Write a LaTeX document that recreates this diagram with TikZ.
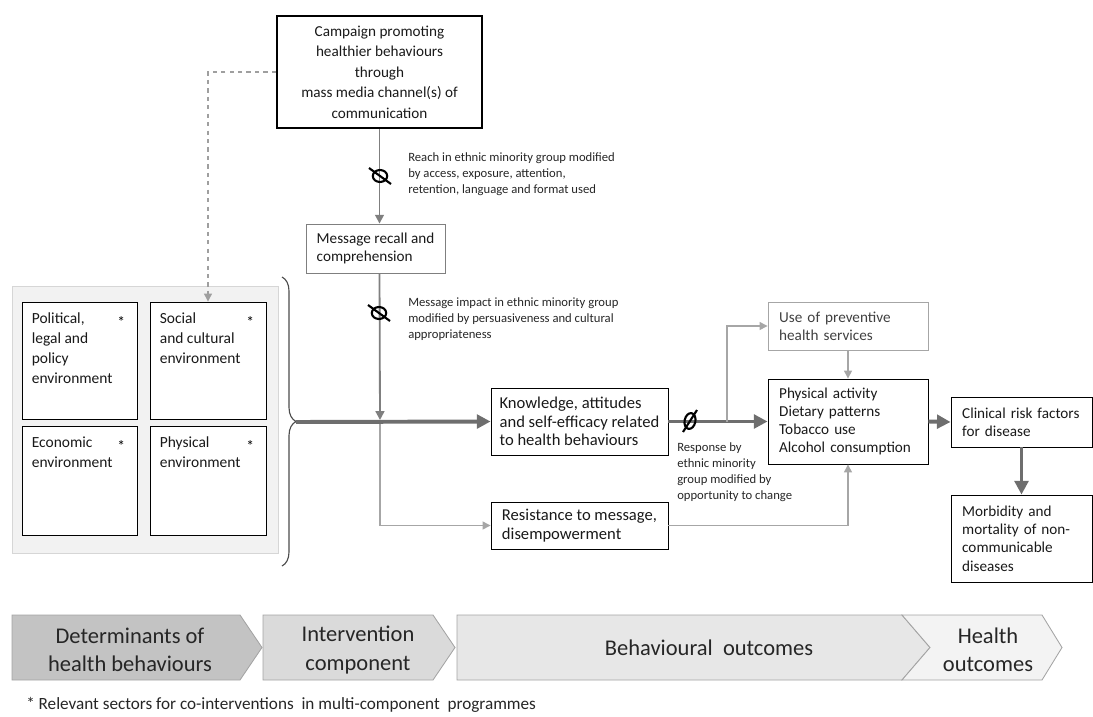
\documentclass[tikz,border=0pt]{standalone}
\usepackage{fontspec}
\setmainfont{Carlito}
\usepackage{xcolor}
\usepackage{tikz}
\usetikzlibrary{
    positioning,
    arrows.meta,
    shapes.geometric,
    calc,
    decorations.pathreplacing,
}
\definecolor{flowgray}{HTML}{6E6E6E}
\definecolor{stemgray}{HTML}{7F7F7F}
\definecolor{sidegray}{HTML}{A6A6A6}
\definecolor{panelfill}{HTML}{F2F2F2}
\definecolor{paneledge}{HTML}{D6D6D6}
\definecolor{chevA}{HTML}{C3C3C3}
\definecolor{chevB}{HTML}{DADADA}
\definecolor{chevC}{HTML}{E7E7E7}
\definecolor{chevD}{HTML}{F3F3F3}
\definecolor{chevedge}{HTML}{A3A3A3}
\tikzset{
    % Box styles
    box/.style={rectangle, draw=black, line width=0.6pt, align=left, inner xsep=0.28cm,
                inner ysep=0pt, font=\fontsize{10.8}{13}\selectfont, text=black!90},
    big box/.style={box, inner xsep=0pt, font=\fontsize{11.8}{13.2}\selectfont},
    env box/.style={rectangle, draw=black, line width=0.6pt, fill=white},
    env text/.style={anchor=north west, align=left, inner xsep=0.25cm, inner ysep=0.27cm,
                     font=\fontsize{11}{14.3}\selectfont, text=black!90},
    env star/.style={anchor=north east, inner xsep=0.3cm, inner ysep=0.36cm,
                     font=\fontsize{11}{13}\selectfont},
    % Annotation styles
    note/.style={anchor=north west, align=left, inner sep=0pt,
                 font=\fontsize{9}{11.4}\selectfont, text=black!85},
    % Arrow styles
    main arrow/.style={-{Triangle[length=3.4mm, width=3.4mm]}, line width=2.8pt, flowgray},
    stem arrow/.style={-{Triangle[length=2.2mm, width=2.2mm]}, line width=1.3pt, stemgray},
    side arrow/.style={-{Triangle[length=2mm, width=2mm]}, line width=0.9pt, sidegray},
    link arrow/.style={-{Triangle[length=2mm, width=2mm]}, dashed, line width=0.8pt, gray!75},
    % Null symbols
    null mark/.style={ellipse, draw=black, line width=1.5pt, inner sep=0pt,
                      minimum width=0.36cm, minimum height=0.3cm},
    null slash/.style={line width=1.5pt, black},
    % Phase chevrons
    chevron/.style={draw=chevedge, line width=0.6pt},
    phase/.style={align=center, font=\fontsize{16}{20}\selectfont, text=black!85},
}

\begin{document}
\begin{tikzpicture}[x=0.025cm, y=-0.025cm]
    \useasboundingbox (0,0) rectangle (1093,717);

    % Campaign
    \node[box, line width=1.4pt, align=center, minimum width=5.125cm, minimum height=2.8cm,
          font=\fontsize{10.8}{14.6}\selectfont] (campaign) at (379.5,72)
          {Campaign promoting\\healthier behaviours\\through\\mass media channel(s) of\\communication};

    % Message recall
    \node[box, draw=stemgray, inner xsep=0pt, minimum width=3.475cm, minimum height=1.225cm]
          (recall) at (375.5,248.5) {Message recall and\\comprehension};

    % Determinants panel
    \node[rectangle, draw=paneledge, fill=panelfill, minimum width=6.65cm, minimum height=6.675cm]
          (panel) at (145,419.5) {};
    \node[env box, minimum width=2.875cm, minimum height=2.925cm,
          label={[env text]north west:{Political,\\legal and\\policy\\environment}},
          label={[env star]north east:*}] (political) at (79.5,360.5) {};
    \node[env box, minimum width=2.9cm, minimum height=2.925cm,
          label={[env text]north west:{Social\\and cultural\\environment}},
          label={[env star]north east:*}] (social) at (208,360.5) {};
    \node[env box, minimum width=2.875cm, minimum height=2.725cm,
          label={[env text]north west:{Economic\\environment}},
          label={[env star]north east:*}] (economic) at (79.5,480.5) {};
    \node[env box, minimum width=2.9cm, minimum height=2.725cm,
          label={[env text]north west:{Physical\\environment}},
          label={[env star]north east:*}] (physical) at (208,480.5) {};

    % Brace
    \draw[decorate, decoration={brace, amplitude=0.35cm}, line width=0.8pt, black!70]
          (282,277) -- (282,566);
    \coordinate (bracetip) at (296,422);
    \coordinate (junction) at (380,422);
    \coordinate (split) at (727,422);

    % Behavioural outcomes
    \node[big box, minimum width=4.425cm, minimum height=1.675cm] (knowledge) at (579.5,421.5)
          {Knowledge, attitudes\\and self-efficacy related\\to health behaviours};
    \node[big box, minimum width=4.425cm, minimum height=1.175cm] (resistance) at (579.5,525.5)
          {Resistance to message,\\disempowerment};
    \node[box, draw=sidegray, text=black!75, text width=3.44cm, minimum height=1.2cm]
          (preventive) at (848,326) {Use of preventive\\health services};
    \node[box, text width=3.44cm, minimum height=2.125cm] (behaviour) at (848,421.5)
          {Physical activity\\Dietary patterns\\Tobacco use\\Alcohol consumption};

    % Health outcomes
    \node[box, text width=2.965cm, minimum height=1.25cm] (clinical) at (1021.5,422)
          {Clinical risk factors\\for disease};
    \node[box, text width=2.965cm, minimum height=2.175cm] (morbidity) at (1021.5,538.5)
          {Morbidity and\\mortality of non-\\communicable\\diseases};

    % Arrows
    \draw[link arrow] (campaign.west) -| (social.north);
    \draw[stem arrow] (campaign.south) -- (campaign.south |- recall.north);
    \draw[stem arrow] (campaign.south |- recall.south) -- ([yshift=0.05cm]junction);
    \draw[side arrow] (junction) |- (resistance.west);
    \draw[main arrow] (bracetip) -- (knowledge.west);
    \draw[main arrow] (knowledge.east) -- (behaviour.west);
    \draw[side arrow] (split) |- (preventive.west);
    \draw[side arrow] (preventive.south) -- (behaviour.north);
    \draw[side arrow] (resistance.east) -| (behaviour.south);
    \draw[main arrow] (behaviour.east) -- (clinical.west);
    \draw[main arrow] (clinical.south) -- (morbidity.north);

    % Null symbols
    \node[null mark] (nullreach) at (380,176) {};
    \draw[null slash] ($(nullreach.center)+(-11,-8)$) -- ($(nullreach.center)+(11,8)$);
    \node[null mark] (nullimpact) at (379,313) {};
    \draw[null slash] ($(nullimpact.center)+(-11,-8)$) -- ($(nullimpact.center)+(11,8)$);
    \node[null mark, minimum width=0.27cm, minimum height=0.4cm, rotate=-12] (nullresponse) at (690,421) {};
    \draw[null slash] ($(nullresponse.center)+(-7,11)$) -- ($(nullresponse.center)+(7,-11)$);

    % Modifier annotations
    \node[note] (reachnote) at (408,152)
          {Reach in ethnic minority group modified\\by access, exposure, attention,\\retention, language and format used};
    \node[note] (impactnote) at (408,297)
          {Message impact in ethnic minority group\\modified by persuasiveness and cultural\\appropriateness};
    \node[note] (responsenote) at (677,442)
          {Response by\\ethnic minority\\group modified by\\opportunity to change};

    % Phases
    \draw[chevron, fill=chevA] (12,615) -- (240,615) -- (262,647.5) -- (240,680) -- (12,680) -- cycle;
    \draw[chevron, fill=chevB] (263,615) -- (433,615) -- (455,647.5) -- (433,680) -- (263,680) -- cycle;
    \draw[chevron, fill=chevC] (457,615) -- (902,615) -- (930,647.5) -- (902,680) -- (457,680) -- cycle;
    \draw[chevron, fill=chevD] (902,615) -- (1042,615) -- (1062,647.5) -- (1042,680) -- (902,680)
          -- (930,647.5) -- cycle;
    \node[phase] (determinants) at (130,650) {Determinants of\\health behaviours};
    \node[phase] (intervention) at (358,650) {Intervention\\component};
    \node[phase] (behavioural) at (709,648) {Behavioural\ \ outcomes};
    \node[phase] (health) at (988,650) {Health\\outcomes};

    % Footnote
    \node[anchor=west, inner sep=0pt, font=\fontsize{12.2}{14}\selectfont, text=black!85] (footnote)
          at (26,705) {* Relevant sectors for co-interventions\ \ in multi-component\ \ programmes};
\end{tikzpicture}
\end{document}
